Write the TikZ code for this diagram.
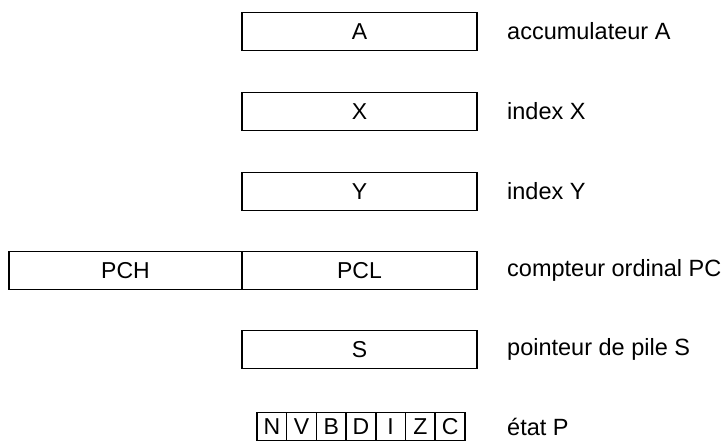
\documentclass[tikz,border=0pt]{standalone}
\usepackage{fontspec}
\setmainfont{Liberation Sans}
\usetikzlibrary{positioning}
\tikzset{
  regbox/.style={draw, line width=1.5pt, minimum width=235pt, minimum height=38pt,
                 inner sep=0pt, outer sep=0pt, font=\fontsize{23}{26}\selectfont},
  bitbox/.style={draw, line width=1.5pt, minimum width=29.7pt, minimum height=28pt,
                 inner sep=0pt, outer sep=0pt, font=\fontsize{23}{26}\selectfont},
  reglabel/.style={anchor=west, inner sep=0pt, font=\fontsize{23.5}{27}\selectfont},
}
\begin{document}
\begin{tikzpicture}[x=1pt, y=1pt]
\useasboundingbox (0,0) rectangle (725,-443);
% registers
\node[regbox] (regA) at (359.5,-31.5) {A};
\node[regbox, below=42pt of regA] (regX) {X};
\node[regbox, below=42pt of regX] (regY) {Y};
\node[regbox, below=41pt of regY] (regPCL) {PCL};
\node[regbox, minimum width=233pt, left=0pt of regPCL] (regPCH) {PCH};
\node[regbox, below=41pt of regPCL] (regS) {S};
% status bits
\node[bitbox, below=44pt of regS.south west, anchor=north west, xshift=15pt] (bitN) {N};
\foreach \b [remember=\b as \prev (initially N)] in {V,B,D,I,Z,C}
  \node[bitbox, right=0pt of bit\prev] (bit\b) {\b};
% labels
\node[reglabel, right=30pt of regA] (labA) {accumulateur A};
\node[reglabel, right=30pt of regX] (labX) {index X};
\node[reglabel, right=30pt of regY] (labY) {index Y};
\node[reglabel, right=30pt of regPCL] (labPC) {compteur ordinal PC};
\node[reglabel, right=30pt of regS] (labS) {pointeur de pile S};
\node[reglabel] (labP) at (labS.west |- bitC) {état P};
\end{tikzpicture}
\end{document}
